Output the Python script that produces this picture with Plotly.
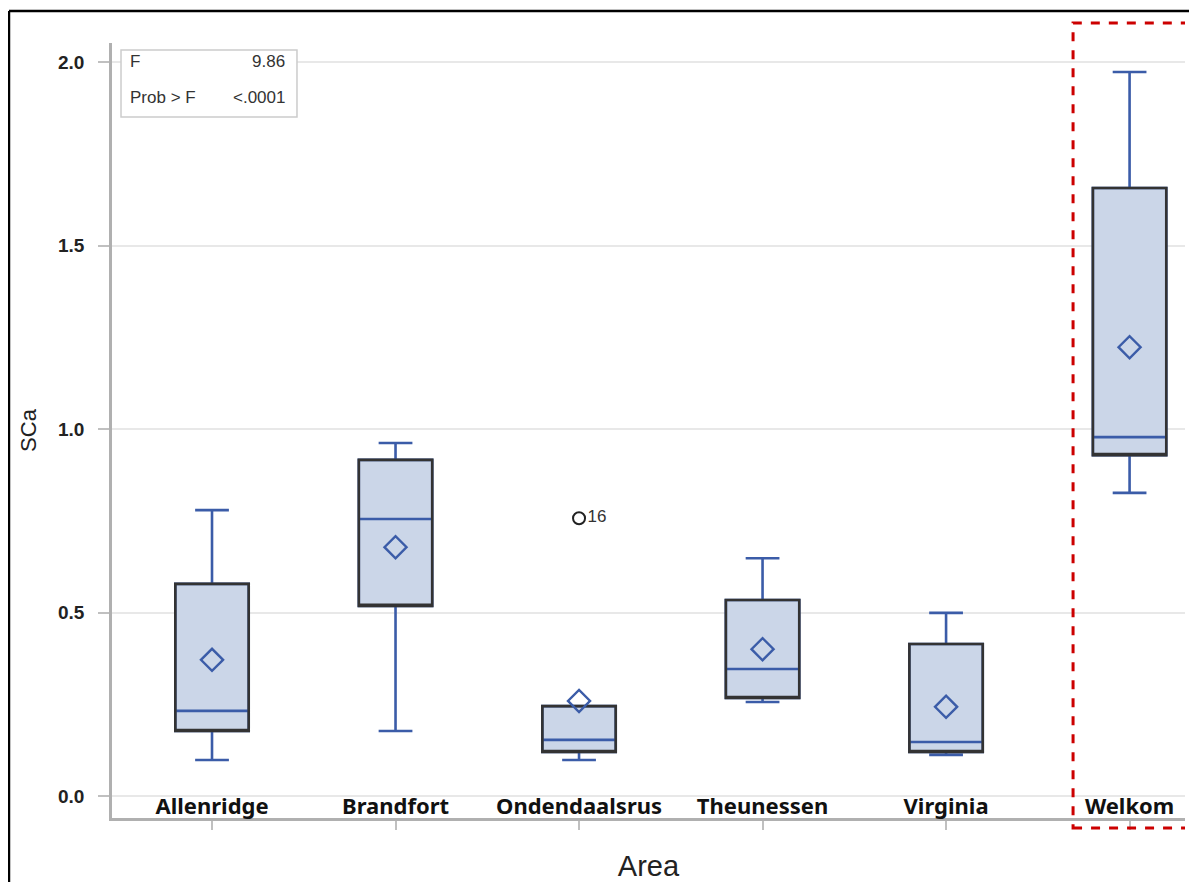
import plotly.graph_objects as go

areas = ["Allenridge", "Brandfort", "Ondendaalsrus", "Theunessen", "Virginia", "Welkom"]
q1 = [0.177, 0.518, 0.120, 0.267, 0.120, 0.929]
median = [0.232, 0.755, 0.153, 0.346, 0.147, 0.978]
q3 = [0.578, 0.916, 0.245, 0.534, 0.414, 1.657]
lower_whisker = [0.098, 0.177, 0.098, 0.256, 0.112, 0.826]
upper_whisker = [0.779, 0.962, 0.245, 0.648, 0.499, 1.973]
means = [0.371, 0.678, 0.259, 0.400, 0.243, 1.223]

outlier_area = ["Ondendaalsrus"]
outlier_value = [0.757]
outlier_label = ["16"]

y_ticks = [0.0, 0.5, 1.0, 1.5, 2.0]
f_value = "9.86"
p_value = "<.0001"
highlight_area = "Welkom"

BLUE = "#3b5ca8"
DARK = "#333333"
FILL = "#cbd6e8"

fig = go.Figure()

# blue box: whiskers, caps, median, fill
fig.add_trace(go.Box(
    x=areas, q1=q1, median=median, q3=q3,
    lowerfence=lower_whisker, upperfence=upper_whisker,
    width=0.4, whiskerwidth=0.46,
    fillcolor=FILL, line=dict(color=BLUE, width=2.6),
    boxpoints=False, showlegend=False, hoverinfo="skip",
))
# dark outline of the box
fig.add_trace(go.Box(
    x=areas, q1=q1, median=q1, q3=q3,
    lowerfence=q1, upperfence=q3,
    width=0.4, whiskerwidth=0,
    fillcolor="rgba(0,0,0,0)", line=dict(color=DARK, width=2.6),
    boxpoints=False, showlegend=False, hoverinfo="skip",
))
# means
fig.add_trace(go.Scatter(
    x=areas, y=means, mode="markers",
    marker=dict(symbol="diamond-open", size=17, color=BLUE, line=dict(width=2.4, color=BLUE)),
    showlegend=False, hoverinfo="skip",
))
# outlier
fig.add_trace(go.Scatter(
    x=outlier_area, y=outlier_value, mode="markers+text",
    text=outlier_label, textposition="middle right",
    textfont=dict(family="Liberation Sans, Arial", size=17, color="#333"),
    marker=dict(symbol="circle-open", size=12, color="#222", line=dict(width=2, color="#222")),
    showlegend=False, hoverinfo="skip",
))

hi = areas.index(highlight_area)

fig.update_layout(
    width=1181, height=874,
    margin=dict(l=104, r=4, t=35, b=64, autoexpand=False),
    paper_bgcolor="white", plot_bgcolor="white",
    boxmode="overlay",
    font=dict(family="Liberation Sans, Arial", color="#222"),
    xaxis=dict(
        type="category", range=[-0.545, 5.302], automargin=False,
        categoryorder="array", categoryarray=areas,
        showgrid=False, showline=True, linecolor="#b0b0b0", linewidth=2.5,
        ticks="outside", ticklen=9, tickcolor="#c0c0c0", tickwidth=2,
        ticklabelstandoff=-42,
        tickfont=dict(family="Noto Sans", size=22, color="#111", weight="bold"),
        title=dict(text="Area", font=dict(family="Liberation Sans, Arial", size=29, color="#222"), standoff=60),
        zeroline=False,
    ),
    yaxis=dict(
        range=[-0.06, 2.052], tickvals=y_ticks, tickformat=".1f", automargin=False,
        showgrid=True, gridcolor="#e8e8e8", gridwidth=2,
        showline=True, linecolor="#b0b0b0", linewidth=2.5,
        ticks="outside", ticklen=11, tickcolor="#c0c0c0", tickwidth=1.5,
        ticklabelstandoff=10,
        tickfont=dict(family="Liberation Sans, Arial", size=19, color="#222", weight="bold"),
        title=dict(text="SCa", font=dict(family="Liberation Sans, Arial", size=22, color="#222"), standoff=16),
        zeroline=False,
    ),
    shapes=[
        # inset stats box
        dict(type="rect", xref="paper", yref="paper", x0=0.0084, x1=0.1724, y0=0.9045, y1=0.991,
             line=dict(color="#cccccc", width=1.5), fillcolor="white", layer="above"),
        # outer frame (top and left)
        dict(type="line", xref="paper", yref="paper", x0=-0.096, x1=1.02, y0=1.0413, y1=1.0413,
             line=dict(color="black", width=2.5)),
        dict(type="line", xref="paper", yref="paper", x0=-0.096, x1=-0.096, y0=-0.2, y1=1.0413,
             line=dict(color="black", width=2.5)),
        # highlight rectangle
        dict(type="rect", xref="x", yref="paper", x0=hi - 0.308, x1=hi + 0.318, y0=-0.0129, y1=1.0258,
             line=dict(color="#cc0000", width=3, dash="dash"), fillcolor="rgba(0,0,0,0)"),
    ],
    annotations=[
        dict(xref="paper", yref="paper", x=0.0149, y=0.9755, text="F", showarrow=False,
             xanchor="left", yanchor="middle", font=dict(size=17, color="#333")),
        dict(xref="paper", yref="paper", x=0.1631, y=0.9755, text=f_value, showarrow=False,
             xanchor="right", yanchor="middle", font=dict(size=17, color="#333")),
        dict(xref="paper", yref="paper", x=0.0149, y=0.930, text="Prob > F", showarrow=False,
             xanchor="left", yanchor="middle", font=dict(size=17, color="#333")),
        dict(xref="paper", yref="paper", x=0.1631, y=0.930, text=p_value, showarrow=False,
             xanchor="right", yanchor="middle", font=dict(size=17, color="#333")),
    ],
)

fig.write_html("out.html")
